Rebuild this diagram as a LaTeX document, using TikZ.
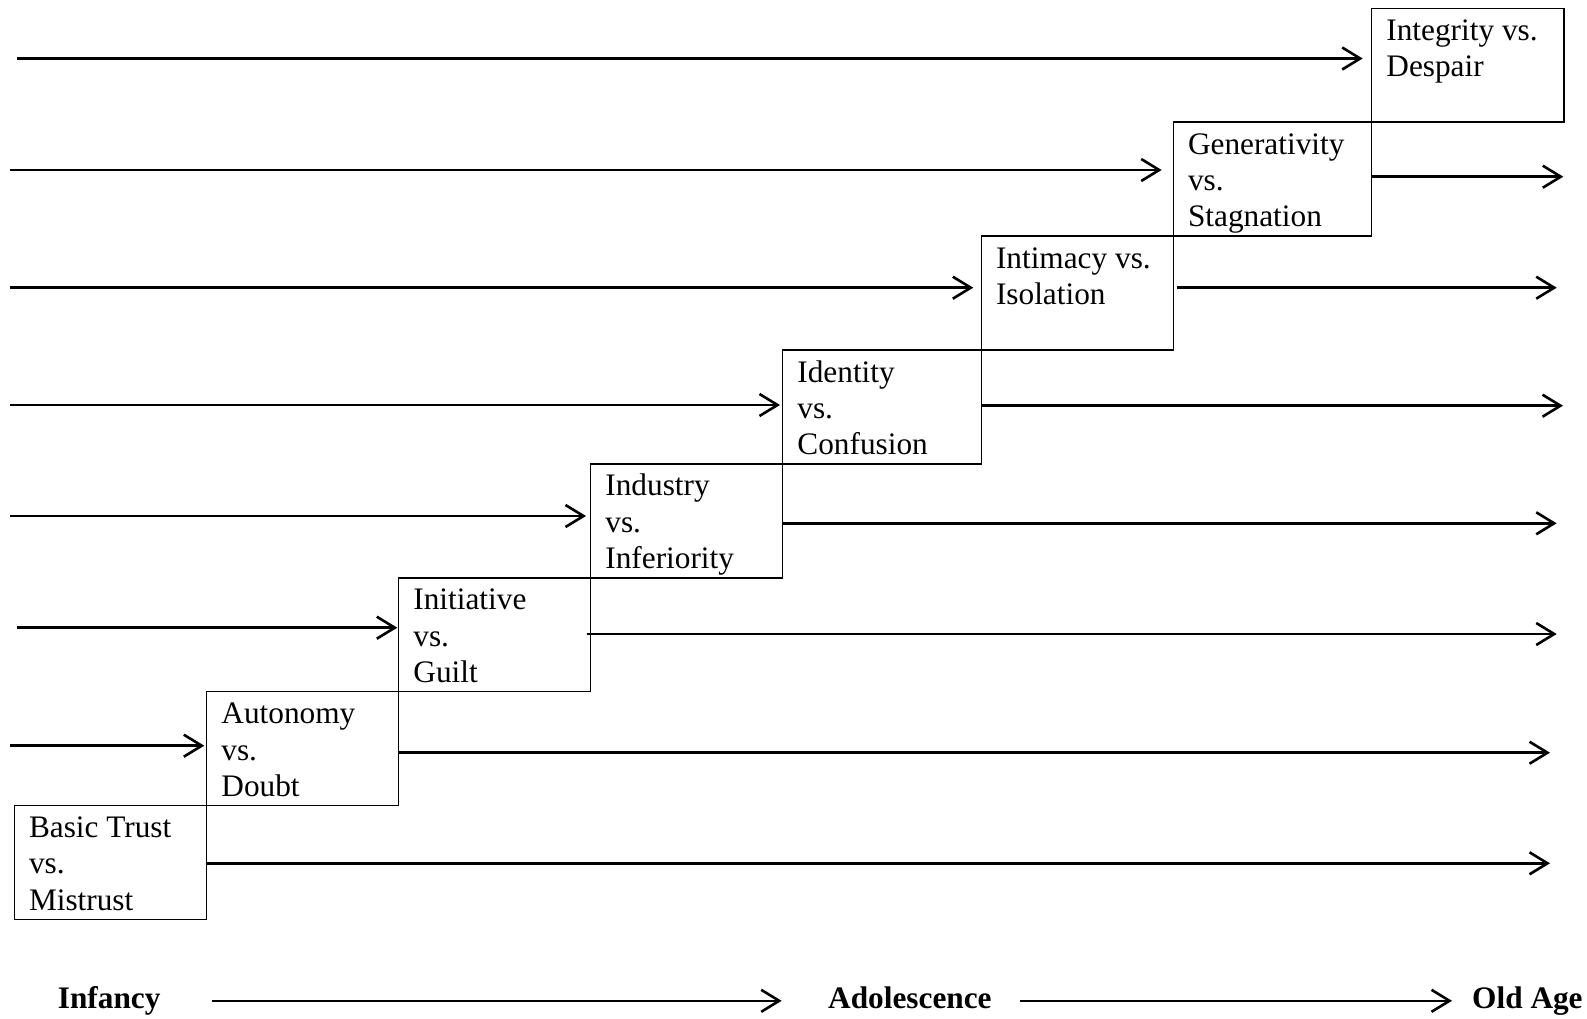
\documentclass[tikz,border=0pt]{standalone}
\usepackage{fontspec}
\setmainfont{Liberation Serif}
\usetikzlibrary{arrows.meta,calc}
\tikzset{
  stagebox/.style={draw, line width=1.4pt, minimum width=#1, minimum height=113.9pt,
    anchor=north west, inner sep=0pt, outer sep=0pt},
  stagebox/.default=192pt,
  stagetext/.style={anchor=north west, inner sep=0pt, align=left,
    font=\fontsize{31.3}{36.3}\selectfont},
  agelabel/.style={anchor=base west, inner sep=0pt, text height=22pt, text depth=7pt,
    font=\fontsize{31.3}{36.3}\selectfont\bfseries},
  flow/.style={line width=2.6pt, -{Straight Barb[length=18pt,width=22pt]}}
}
\begin{document}
\begin{tikzpicture}[x=1pt,y=-1pt]
\fill[white] (0,0) rectangle (1587,1019);
\useasboundingbox (0,0) rectangle (1587,1019);

% boxes
\node[stagebox=192.4pt] (b1) at (14.3,805.6) {};
\node[stagebox] (b2) at (206.7,691.7) {};
\node[stagebox] (b3) at (398.7,577.8) {};
\node[stagebox] (b4) at (590.7,463.9) {};
\node[stagebox=198.6pt] (b5) at (782.7,350) {};
\node[stagebox] (b6) at (981.3,236.1) {};
\node[stagebox=198.4pt] (b7) at (1173.3,122.2) {};
\node[stagebox=192.3pt] (b8) at (1371.7,8.3) {};

% texts
\node[stagetext] (t1) at ($(b1.north west)+(14.5,6.4)$) {\strut Basic Trust\\vs.\\Mistrust};
\node[stagetext] (t2) at ($(b2.north west)+(14.5,6.4)$) {\strut Autonomy\\vs.\\Doubt};
\node[stagetext] (t3) at ($(b3.north west)+(14.5,6.4)$) {\strut Initiative\\vs.\\Guilt};
\node[stagetext] (t4) at ($(b4.north west)+(14.5,6.4)$) {\strut Industry\\vs.\\Inferiority};
\node[stagetext] (t5) at ($(b5.north west)+(14.5,6.4)$) {\strut Identity\\vs.\\Confusion};
\node[stagetext] (t6) at ($(b6.north west)+(14.5,6.4)$) {\strut Intimacy vs.\\Isolation};
\node[stagetext] (t7) at ($(b7.north west)+(14.5,6.4)$) {\strut Generativity\\vs.\\Stagnation};
\node[stagetext] (t8) at ($(b8.north west)+(14.5,6.4)$) {\strut Integrity vs.\\Despair};

% left arrows
\coordinate (l8) at (17.3,58.5);
\coordinate (l7) at (10.3,170);
\coordinate (l6) at (10.3,287.7);
\coordinate (l5) at (10.3,405);
\coordinate (l4) at (10.3,516);
\coordinate (l3) at (17.3,627.7);
\coordinate (l2) at (10.3,745.7);
\draw[flow, shorten >=9pt] (l8) -- (l8 -| b8.west);
\draw[flow, shorten >=11.6pt] (l7) -- (l7 -| b7.west);
\draw[flow, shorten >=8pt] (l6) -- (l6 -| b6.west);
\draw[flow, shorten >=2.7pt] (l5) -- (l5 -| b5.west);
\draw[flow, shorten >=4.7pt] (l4) -- (l4 -| b4.west);
\draw[flow, shorten >=1.4pt] (l3) -- (l3 -| b3.west);
\draw[flow, shorten >=2.4pt] (l2) -- (l2 -| b2.west);

% right arrows
\coordinate (r7) at (1563.3,176.7);
\coordinate (r6) at (1556.7,287.7);
\coordinate (r5) at (1563,405.7);
\coordinate (r4) at (1556.7,523.3);
\coordinate (r3) at (1556.7,634);
\coordinate (r2) at (1550,752.7);
\coordinate (r1) at (1550,863.3);
\draw[flow] (b7.east |- r7) -- (r7);
\draw[flow, shorten <=3.4pt] (b6.east |- r6) -- (r6);
\draw[flow] (b5.east |- r5) -- (r5);
\draw[flow, shorten <=-1pt] (b4.east |- r4) -- (r4);
\draw[flow, shorten <=-4pt] (b3.east |- r3) -- (r3);
\draw[flow, shorten <=0.6pt] (b2.east |- r2) -- (r2);
\draw[flow, shorten <=-1pt] (b1.east |- r1) -- (r1);

% bottom age line
\node[agelabel] (inf) at (57.7,1008.3) {Infancy};
\node[agelabel] (adol) at (828,1008.3) {Adolescence};
\node[agelabel] (old) at (1472,1008.3) {Old Age};
\draw[flow, shorten <=51.4pt, shorten >=46.3pt] (inf.east) -- (adol.west);
\draw[flow, shorten <=28.6pt, shorten >=20pt] (adol.east) -- (old.west);
\end{tikzpicture}
\end{document}
